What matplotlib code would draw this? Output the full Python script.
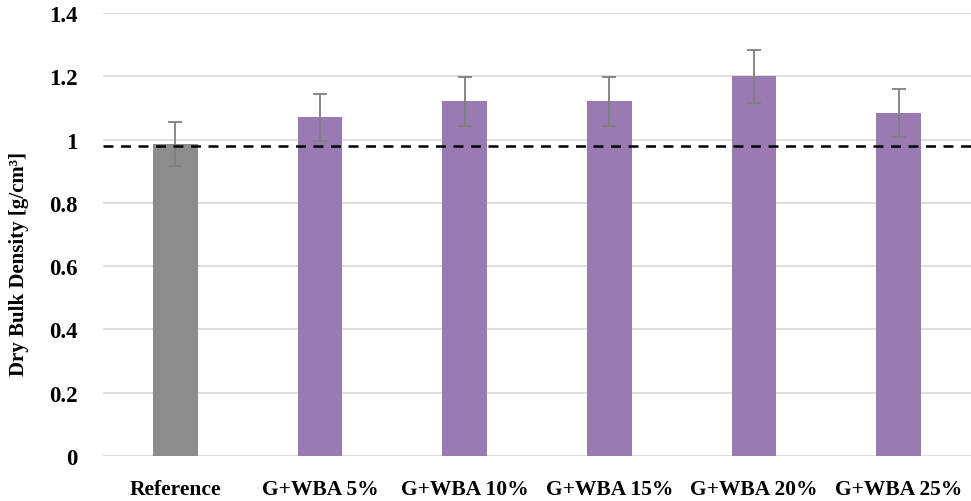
import matplotlib
matplotlib.use("Agg")
import matplotlib.pyplot as plt
import numpy as np

categories = ["Reference", "G+WBA 5%", "G+WBA 10%", "G+WBA 15%", "G+WBA 20%", "G+WBA 25%"]
density = [0.985, 1.070, 1.121, 1.121, 1.200, 1.083]
errors = [0.070, 0.075, 0.078, 0.078, 0.083, 0.076]
reference_line = 0.98
yticks = [0, 0.2, 0.4, 0.6, 0.8, 1.0, 1.2, 1.4]
ytick_labels = ["0", "0.2", "0.4", "0.6", "0.8", "1", "1.2", "1.4"]

COL_REF = "#8c8c8c"
COL_WBA = "#9a7ab3"
COL_ERR = "#7f7f7f"

plt.rcParams["font.family"] = ["Liberation Serif", "DejaVu Serif"]
plt.rcParams["font.weight"] = "bold"

fig = plt.figure(figsize=(9.71, 5.02), dpi=100)
ax = fig.add_axes([0.106, 0.09, 0.894, 0.882])

x = np.arange(len(categories))
colors = [COL_REF] + [COL_WBA] * (len(categories) - 1)
ax.bar(x, density, width=0.31, color=colors, zorder=2)
ax.errorbar(x, density, yerr=errors, fmt="none", ecolor=COL_ERR,
            elinewidth=1.3, capsize=5, capthick=1.3, zorder=3)
ax.axhline(reference_line, color="black", linestyle=(0, (4, 3)), linewidth=1.8, zorder=4)

ax.set_xlim(-0.5, len(categories) - 0.5)
ax.set_ylim(0, 1.4)
ax.set_yticks(yticks)
ax.set_yticklabels(ytick_labels, fontsize=16.5, fontweight="bold")
ax.set_xticks(x)
ax.set_xticklabels(categories, fontsize=15.5, fontweight="bold")
ax.grid(axis="y", color="#d9d9d9", linewidth=1.2, zorder=0)
ax.set_axisbelow(True)
for s in ax.spines.values():
    s.set_visible(False)
ax.tick_params(axis="both", length=0)
ax.tick_params(axis="y", pad=18)
ax.tick_params(axis="x", pad=17)

# y label placed in figure coords so it stays inside the canvas
fig.text(19 / 971, 1 - 264 / 502, "Dry Bulk Density [g/cm³]",
         rotation=90, ha="center", va="center", fontsize=15, fontweight="bold")

fig.savefig("out.png", dpi=100)
